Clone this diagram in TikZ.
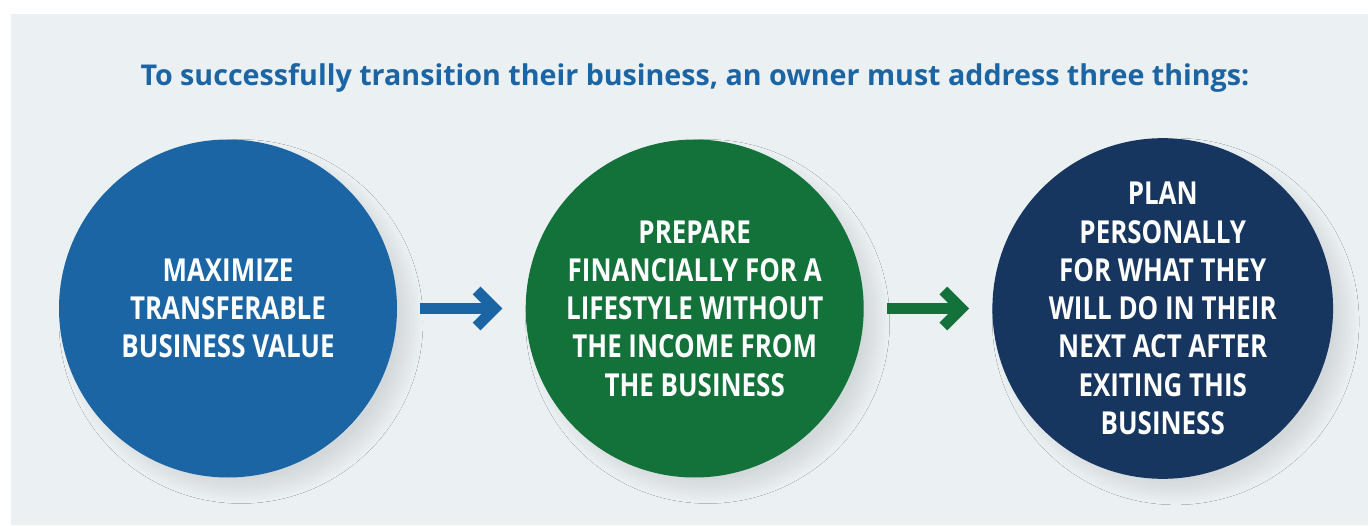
\documentclass[tikz,border=0pt]{standalone}
\usepackage{fontspec}
\setmainfont{Open Sans}
\newfontfamily\condfont[FakeStretch=0.82]{Open Sans}
\usetikzlibrary{positioning, arrows.meta, shadows.blur}
\definecolor{panelgray}{HTML}{EBF0F3}
\definecolor{valueblue}{HTML}{1B65A4}
\definecolor{moneygreen}{HTML}{12723A}
\definecolor{plannavy}{HTML}{17365F}

\begin{document}
\begin{tikzpicture}[node distance={2.56cm},
                    stage/.style = {circle, minimum size=6.76cm, inner sep=0pt, text=white,
                                    align=center, font=\condfont\bfseries\fontsize{18}{21.8}\selectfont,
                                    blur shadow={shadow xshift=0.26cm, shadow yshift=-0.26cm,
                                                 shadow blur radius=0.26cm, shadow blur steps=14,
                                                 shadow opacity=10}},
                    link/.style = {line width=0.22cm, -{Straight Barb[length=0.36cm, width=0.72cm]},
                                   shorten <=0.46cm, shorten >=0.46cm}]
    \useasboundingbox (0,0) rectangle (27.36,10.5);
    \fill[panelgray] (0.22,0) rectangle (27.36,10.22);

    \node[font=\bfseries\fontsize{16.3}{19}\selectfont, text=valueblue] (title) at (13.9,8.94)
        {To successfully transition their business, an owner must address three things:};

    \node[stage, fill=valueblue] (max) at (4.56,4.33) {MAXIMIZE\\TRANSFERABLE\\BUSINESS VALUE};
    \node[stage, fill=moneygreen] (prep) [right=of max]
        {PREPARE\\FINANCIALLY FOR A\\LIFESTYLE WITHOUT\\THE INCOME FROM\\THE BUSINESS};
    \node[stage, fill=plannavy] (plan) [right=of prep]
        {PLAN\\PERSONALLY\\FOR WHAT THEY\\WILL DO IN THEIR\\NEXT ACT AFTER\\EXITING THIS\\BUSINESS};

    \draw[link, valueblue] (max) -- (prep);
    \draw[link, moneygreen] (prep) -- (plan);
\end{tikzpicture}
\end{document}
